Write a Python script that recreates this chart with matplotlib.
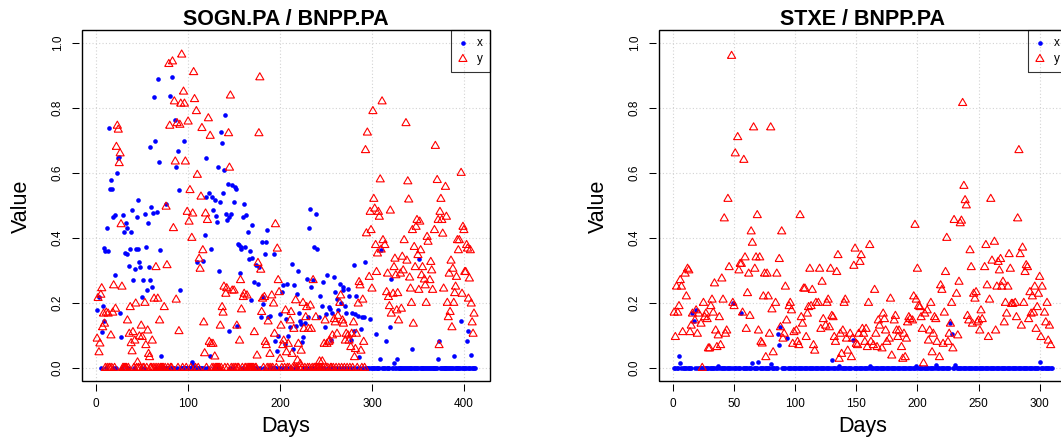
import numpy as np
import matplotlib.pyplot as plt
from matplotlib.patches import Rectangle

plt.rcParams['font.family'] = ['Liberation Sans', 'DejaVu Sans']

# ---- SOGN.PA / BNPP.PA : days 1..412 ----
sogn_n_days = 412
# blue series "x", non-zero readings (other days sit at 0 from day 5 on)
sogn_x_days = [1, 3, 6, 7, 8, 9, 10, 12, 13, 14, 15, 16, 17, 18, 20, 21, 23, 24, 25, 26,
               27, 29, 30, 31, 32, 33, 34, 36, 37, 38, 39, 40, 42, 43, 44, 45, 46, 47, 48, 50,
               51, 53, 54, 55, 56, 57, 58, 59, 60, 61, 62, 63, 64, 66, 67, 68, 69, 70, 76, 80,
               83, 86, 87, 89, 90, 91, 95, 104, 105, 110, 116, 118, 119, 120, 123, 124, 125, 126, 127, 129,
               130, 131, 132, 134, 135, 136, 137, 138, 139, 140, 141, 142, 143, 144, 145, 147, 148, 150, 151, 152,
               153, 154, 155, 156, 157, 158, 160, 161, 162, 163, 165, 166, 167, 168, 169, 170, 172, 174, 176, 177,
               179, 180, 181, 182, 184, 185, 186, 187, 189, 193, 195, 197, 198, 200, 202, 203, 205, 206, 208, 209,
               211, 213, 214, 215, 217, 218, 220, 221, 222, 223, 224, 225, 227, 229, 230, 232, 233, 234, 236, 237,
               239, 240, 242, 244, 246, 247, 249, 250, 251, 253, 254, 256, 257, 259, 260, 262, 263, 265, 266, 268,
               269, 271, 272, 274, 275, 277, 278, 280, 281, 282, 283, 285, 286, 288, 289, 291, 292, 298, 304, 309,
               310, 315, 320, 321, 324, 327, 344, 351, 372, 373, 389, 397, 403, 405, 408]
sogn_x_vals = [0.18, 0.22, 0.11, 0.19, 0.37, 0.145, 0.36, 0.43, 0.36, 0.74, 0.55, 0.58, 0.55, 0.465, 0.47, 0.285, 0.6, 0.645, 0.65, 0.17,
               0.095, 0.47, 0.42, 0.355, 0.445, 0.35, 0.43, 0.315, 0.367, 0.42, 0.485, 0.27, 0.305, 0.367, 0.465, 0.516, 0.367, 0.326, 0.31, 0.218,
               0.27, 0.475, 0.372, 0.24, 0.446, 0.31, 0.27, 0.68, 0.496, 0.25, 0.477, 0.833, 0.697, 0.48, 0.89, 0.635, 0.364, 0.038, 0.506, 0.836,
               0.895, 0.763, 0.62, 0.668, 0.547, 0.24, 0.70, 0.017, 0.01, 0.326, 0.33, 0.408, 0.645, 0.527, 0.537, 0.038, 0.367, 0.527, 0.487, 0.516,
               0.467, 0.45, 0.62, 0.30, 0.51, 0.727, 0.693, 0.54, 0.61, 0.78, 0.475, 0.455, 0.567, 0.465, 0.115, 0.475, 0.563, 0.51, 0.557, 0.552,
               0.13, 0.383, 0.38, 0.292, 0.372, 0.367, 0.465, 0.506, 0.372, 0.47, 0.42, 0.336, 0.36, 0.208, 0.34, 0.44, 0.264, 0.316, 0.26, 0.31,
               0.156, 0.388, 0.197, 0.218, 0.35, 0.388, 0.424, 0.156, 0.16, 0.35, 0.084, 0.053, 0.1, 0.167, 0.233, 0.254, 0.074, 0.15, 0.26, 0.1,
               0.125, 0.32, 0.058, 0.254, 0.13, 0.228, 0.30, 0.17, 0.146, 0.136, 0.08, 0.095, 0.138, 0.275, 0.156, 0.43, 0.49, 0.25, 0.272, 0.372,
               0.475, 0.367, 0.156, 0.223, 0.192, 0.264, 0.125, 0.167, 0.285, 0.187, 0.182, 0.086, 0.17, 0.28, 0.233, 0.213, 0.177, 0.26, 0.2, 0.25,
               0.24, 0.192, 0.17, 0.244, 0.223, 0.086, 0.17, 0.115, 0.316, 0.167, 0.223, 0.16, 0.033, 0.12, 0.156, 0.156, 0.326, 0.15, 0.105, 0.028,
               0.362, 0.084, 0.125, 0.275, 0.014, 0.028, 0.058, 0.336, 0.028, 0.084, 0.038, 0.146, 0.082, 0.113, 0.041]
sogn_x_zero_from = 5

# red series "y", non-zero readings (other days from 6 to 292 sit at 0)
sogn_y_days = [1, 2, 3, 4, 5, 6, 7, 8, 9, 11, 13, 16, 18, 19, 21, 22, 23, 24, 25, 26,
               27, 28, 34, 36, 37, 38, 39, 40, 42, 43, 45, 47, 49, 50, 53, 54, 56, 57, 58, 61,
               63, 65, 67, 69, 74, 76, 77, 79, 80, 83, 84, 85, 86, 87, 88, 90, 91, 92, 93, 95,
               96, 97, 99, 100, 101, 102, 104, 105, 106, 107, 109, 110, 112, 113, 114, 115, 116, 117, 118, 119,
               121, 122, 123, 124, 125, 127, 129, 135, 137, 138, 139, 141, 142, 144, 145, 146, 148, 150, 153, 156,
               157, 158, 160, 161, 164, 172, 175, 176, 177, 178, 179, 180, 181, 183, 184, 185, 187, 189, 191, 193,
               194, 195, 197, 198, 199, 200, 201, 203, 204, 206, 207, 209, 211, 212, 213, 215, 217, 219, 220, 222,
               223, 225, 226, 228, 229, 231, 233, 234, 236, 239, 243, 246, 248, 249, 251, 253, 254, 257, 259, 260,
               262, 263, 265, 266, 268, 269, 271, 272, 274, 275, 277, 278, 280, 281, 282, 283, 285, 286, 287, 288,
               290, 291, 293, 294, 295, 297, 298, 299, 300, 301, 302, 303, 304, 305, 306, 307, 308, 309, 310, 311,
               312, 314, 316, 317, 318, 319, 320, 321, 323, 324, 325, 326, 327, 328, 329, 331, 332, 333, 334, 335,
               337, 338, 339, 340, 341, 342, 343, 344, 345, 346, 347, 348, 349, 350, 351, 352, 353, 354, 355, 357,
               358, 359, 360, 361, 363, 364, 365, 366, 368, 369, 371, 372, 373, 374, 375, 376, 377, 378, 380, 381,
               382, 383, 384, 385, 386, 387, 388, 389, 390, 391, 392, 393, 394, 395, 397, 398, 399, 400, 401, 402,
               403, 404, 405, 406, 407, 408, 409, 410, 411]
sogn_y_vals = [0.09, 0.215, 0.048, 0.075, 0.225, 0.245, 0.125, 0.167, 0.136, 0.17, 0.167, 0.1, 0.17, 0.254, 0.182, 0.68, 0.745, 0.733, 0.63, 0.66,
               0.442, 0.25, 0.146, 0.105, 0.187, 0.076, 0.051, 0.11, 0.084, 0.198, 0.017, 0.097, 0.13, 0.095, 0.2, 0.07, 0.115, 0.043, 0.033, 0.084,
               0.213, 0.31, 0.213, 0.146, 0.187, 0.496, 0.316, 0.935, 0.745, 0.943, 0.43, 0.82, 0.635, 0.21, 0.753, 0.113, 0.748, 0.813, 0.964, 0.85,
               0.813, 0.635, 0.48, 0.758, 0.45, 0.547, 0.40, 0.475, 0.91, 0.827, 0.79, 0.594, 0.336, 0.305, 0.527, 0.738, 0.362, 0.14, 0.045, 0.475,
               0.455, 0.768, 0.08, 0.714, 0.074, 0.074, 0.035, 0.13, 0.187, 0.17, 0.25, 0.228, 0.245, 0.722, 0.616, 0.838, 0.238, 0.238, 0.13, 0.084,
               0.27, 0.18, 0.218, 0.228, 0.223, 0.11, 0.038, 0.323, 0.722, 0.894, 0.302, 0.172, 0.213, 0.218, 0.08, 0.07, 0.143, 0.043, 0.223, 0.198,
               0.105, 0.442, 0.367, 0.27, 0.233, 0.028, 0.13, 0.07, 0.084, 0.177, 0.048, 0.074, 0.146, 0.172, 0.043, 0.12, 0.208, 0.023, 0.074, 0.012,
               0.053, 0.2, 0.12, 0.156, 0.187, 0.12, 0.192, 0.12, 0.27, 0.156, 0.02, 0.02, 0.074, 0.146, 0.074, 0.08, 0.084, 0.1, 0.15, 0.14,
               0.105, 0.16, 0.2, 0.223, 0.146, 0.136, 0.084, 0.105, 0.1, 0.084, 0.064, 0.105, 0.14, 0.033, 0.058, 0.105, 0.198, 0.264, 0.254, 0.053,
               0.21, 0.08, 0.67, 0.414, 0.724, 0.28, 0.48, 0.424, 0.244, 0.79, 0.52, 0.49, 0.378, 0.295, 0.352, 0.48, 0.465, 0.58, 0.364, 0.82,
               0.393, 0.378, 0.233, 0.29, 0.218, 0.19, 0.484, 0.167, 0.228, 0.31, 0.336, 0.285, 0.177, 0.23, 0.146, 0.29, 0.182, 0.342, 0.30, 0.393,
               0.753, 0.33, 0.574, 0.518, 0.278, 0.244, 0.2, 0.424, 0.136, 0.372, 0.31, 0.434, 0.455, 0.347, 0.24, 0.45, 0.362, 0.285, 0.31, 0.272,
               0.254, 0.2, 0.403, 0.388, 0.27, 0.326, 0.30, 0.24, 0.424, 0.683, 0.578, 0.455, 0.07, 0.48, 0.52, 0.455, 0.413, 0.244, 0.557, 0.465,
               0.2, 0.156, 0.29, 0.172, 0.33, 0.125, 0.305, 0.2, 0.23, 0.25, 0.28, 0.393, 0.362, 0.393, 0.6, 0.228, 0.434, 0.424, 0.295, 0.295,
               0.378, 0.367, 0.213, 0.275, 0.362, 0.198, 0.14, 0.105, 0.167]
sogn_y_zero_from = 6
sogn_y_zero_to = 292

# ---- STXE / BNPP.PA : days 1..310 ----
stxe_n_days = 310
stxe_x_days = [5, 6, 16, 17, 19, 37, 49, 56, 65, 70, 80, 86, 87, 88, 93, 130, 136, 147, 161, 199,
               215, 227, 228, 231, 300]
stxe_x_vals = [0.036, 0.014, 0.17, 0.145, 0.18, 0.005, 0.2, 0.17, 0.014, 0.017, 0.012, 0.105, 0.07, 0.125, 0.093, 0.025, 0.007, 0.087, 0.005, 0.005,
               0.01, 0.14, 0.105, 0.01, 0.017]

stxe_y_days = [1, 2, 3, 4, 5, 6, 7, 8, 10, 11, 12, 13, 14, 15, 16, 18, 19, 20, 21, 23,
               24, 25, 26, 27, 28, 29, 30, 31, 32, 33, 34, 35, 36, 37, 38, 39, 40, 41, 42, 43,
               44, 45, 46, 48, 49, 50, 51, 53, 54, 55, 56, 57, 58, 59, 60, 61, 62, 63, 64, 65,
               66, 67, 68, 69, 70, 71, 72, 73, 74, 75, 76, 77, 78, 79, 80, 81, 82, 84, 85, 87,
               88, 89, 90, 91, 92, 93, 95, 96, 97, 98, 99, 101, 102, 103, 104, 105, 106, 107, 108, 109,
               110, 111, 112, 113, 114, 115, 116, 117, 119, 120, 121, 122, 123, 125, 126, 127, 128, 129, 130, 131,
               132, 133, 134, 135, 136, 137, 138, 139, 140, 141, 142, 143, 145, 146, 147, 148, 149, 150, 151, 152,
               153, 154, 155, 156, 157, 158, 159, 160, 161, 162, 164, 165, 166, 167, 168, 169, 171, 172, 173, 174,
               175, 177, 178, 179, 181, 182, 183, 184, 185, 187, 188, 189, 190, 191, 192, 193, 194, 196, 197, 198,
               199, 200, 201, 202, 203, 204, 205, 206, 208, 209, 210, 211, 212, 213, 214, 215, 216, 218, 219, 220,
               221, 222, 223, 224, 225, 226, 227, 228, 229, 230, 232, 233, 234, 235, 236, 237, 238, 239, 240, 241,
               242, 243, 244, 245, 246, 247, 248, 249, 250, 251, 252, 253, 255, 256, 257, 258, 259, 260, 261, 263,
               264, 265, 266, 267, 268, 269, 270, 271, 272, 273, 274, 275, 276, 277, 278, 280, 281, 282, 283, 284,
               285, 286, 287, 288, 289, 290, 291, 292, 293, 294, 295, 296, 297, 298, 299, 300, 301, 302, 304, 305,
               306, 307, 308, 309]
stxe_y_vals = [0.17, 0.095, 0.25, 0.17, 0.19, 0.27, 0.25, 0.11, 0.29, 0.22, 0.305, 0.30, 0.11, 0.13, 0.167, 0.146, 0.177, 0.105, 0.167, 0.136,
               0.0, 0.2, 0.156, 0.167, 0.15, 0.06, 0.06, 0.19, 0.21, 0.17, 0.26, 0.115, 0.064, 0.1, 0.156, 0.07, 0.275, 0.21, 0.46, 0.105,
               0.115, 0.52, 0.31, 0.96, 0.2, 0.19, 0.66, 0.71, 0.30, 0.32, 0.32, 0.17, 0.64, 0.34, 0.12, 0.23, 0.29, 0.16, 0.42, 0.385,
               0.74, 0.305, 0.34, 0.47, 0.115, 0.34, 0.08, 0.075, 0.22, 0.29, 0.033, 0.29, 0.22, 0.105, 0.74, 0.18, 0.048, 0.2, 0.29, 0.335,
               0.125, 0.42, 0.09, 0.105, 0.25, 0.146, 0.19, 0.2, 0.177, 0.074, 0.11, 0.115, 0.08, 0.07, 0.47, 0.156, 0.136, 0.244, 0.244, 0.095,
               0.167, 0.187, 0.305, 0.19, 0.24, 0.07, 0.053, 0.2, 0.2, 0.305, 0.12, 0.265, 0.15, 0.13, 0.2, 0.21, 0.125, 0.305, 0.16, 0.156,
               0.095, 0.08, 0.295, 0.347, 0.028, 0.105, 0.043, 0.115, 0.2, 0.21, 0.09, 0.053, 0.105, 0.033, 0.09, 0.314, 0.367, 0.074, 0.07, 0.105,
               0.326, 0.347, 0.12, 0.105, 0.08, 0.12, 0.064, 0.2, 0.378, 0.08, 0.07, 0.24, 0.105, 0.064, 0.146, 0.13, 0.06, 0.167, 0.15, 0.115,
               0.08, 0.09, 0.213, 0.038, 0.146, 0.16, 0.115, 0.095, 0.115, 0.064, 0.028, 0.105, 0.033, 0.09, 0.14, 0.156, 0.15, 0.146, 0.22, 0.44,
               0.21, 0.305, 0.19, 0.187, 0.156, 0.12, 0.014, 0.167, 0.177, 0.084, 0.115, 0.2, 0.048, 0.105, 0.156, 0.15, 0.08, 0.033, 0.254, 0.24,
               0.074, 0.17, 0.295, 0.4, 0.08, 0.105, 0.136, 0.2, 0.06, 0.455, 0.228, 0.1, 0.265, 0.445, 0.453, 0.815, 0.56, 0.516, 0.5, 0.16,
               0.146, 0.362, 0.31, 0.136, 0.228, 0.213, 0.233, 0.14, 0.146, 0.115, 0.177, 0.15, 0.31, 0.378, 0.254, 0.095, 0.21, 0.52, 0.33, 0.388,
               0.115, 0.25, 0.326, 0.30, 0.335, 0.25, 0.265, 0.14, 0.2, 0.167, 0.25, 0.35, 0.305, 0.197, 0.197, 0.2, 0.156, 0.46, 0.67, 0.35,
               0.13, 0.37, 0.2, 0.295, 0.316, 0.31, 0.15, 0.233, 0.167, 0.22, 0.17, 0.25, 0.12, 0.187, 0.228, 0.28, 0.095, 0.25, 0.17, 0.14,
               0.2, 0.084, 0.13, 0.07]

# equilateral open triangle centred on its centroid (like R's pch = 2)
TRIANGLE = [(-1.0, -0.577), (1.0, -0.577), (0.0, 1.155), (-1.0, -0.577)]


def with_zeros(days, vals, zero_from, zero_to):
    # days with no non-zero reading are plotted on the zero line
    seen = set(days)
    zd = [d for d in range(zero_from, zero_to + 1) if d not in seen]
    return np.array(list(days) + zd, float), np.array(list(vals) + [0.0] * len(zd))


def panel(ax, title, n_days, xs, ys, step):
    ext = 0.04 * (n_days - 1)
    ax.set_xlim(1 - ext, n_days + ext)
    ax.set_ylim(-0.04, 1.04)
    ax.set_xticks(np.arange(0, n_days + 1, step))
    ax.set_yticks(np.arange(0, 1.01, 0.2))
    ax.set_yticklabels(['%.1f' % v for v in np.arange(0, 1.01, 0.2)])
    ax.grid(True, color='#d3d3d3', linestyle=(0, (1, 2)), linewidth=0.8)
    ax.set_axisbelow(True)

    ax.scatter(xs[0], xs[1], s=11, c='blue', marker='o', linewidths=0, label='x', zorder=2)
    ax.scatter(ys[0], ys[1], s=46, facecolors='none', edgecolors='red', marker=TRIANGLE,
               linewidths=0.8, label='y', zorder=3)

    for side in ['top', 'right', 'bottom', 'left']:
        ax.spines[side].set_visible(False)
    ax.spines['bottom'].set_position(('outward', 2))
    ax.spines['left'].set_position(('outward', 2))
    ax.add_patch(Rectangle((0, 0), 1, 1, transform=ax.transAxes, fill=False,
                           lw=1.0, ec='black', clip_on=False, zorder=5))

    ax.tick_params(direction='out', length=5, width=0.75, labelsize=8.5)
    ax.tick_params(axis='x', pad=5.5)
    ax.tick_params(axis='y', pad=6, labelrotation=90)
    plt.setp(ax.get_yticklabels(), va='center')

    ax.set_title(title, fontsize=15.5, fontweight='bold', pad=3.6)

    leg = ax.legend(loc='upper right', borderaxespad=0, fancybox=False, edgecolor='black',
                    facecolor='none', framealpha=None, fontsize=8.5, scatterpoints=1,
                    handlelength=0.8, handletextpad=0.8, borderpad=0.6, labelspacing=0.35)
    leg.get_frame().set_linewidth(0.8)
    leg.set_zorder(6)


W, H = 1061, 437
fig = plt.figure(figsize=(W / 100, H / 100), dpi=100)
ax1 = fig.add_axes([82 / W, 1 - 381 / H, 408 / W, 351 / H])
ax2 = fig.add_axes([659 / W, 1 - 381 / H, 408 / W, 351 / H])

panel(ax1, 'SOGN.PA / BNPP.PA', sogn_n_days,
      with_zeros(sogn_x_days, sogn_x_vals, sogn_x_zero_from, sogn_n_days),
      with_zeros(sogn_y_days, sogn_y_vals, sogn_y_zero_from, sogn_y_zero_to), 100)
panel(ax2, 'STXE / BNPP.PA', stxe_n_days,
      with_zeros(stxe_x_days, stxe_x_vals, 1, stxe_n_days),
      (np.array(stxe_y_days, float), np.array(stxe_y_vals)), 50)

for ax in (ax1, ax2):
    pos = ax.get_position()
    cx = pos.x0 + pos.width / 2
    fig.text(pos.x0 - 61 / W, 1 - 206 / H, 'Value', rotation=90, ha='center', va='center', fontsize=15.5)
    fig.text(cx, 1 - 432 / H, 'Days', ha='center', va='baseline', fontsize=15.5)

fig.savefig('out.png', dpi=100)
